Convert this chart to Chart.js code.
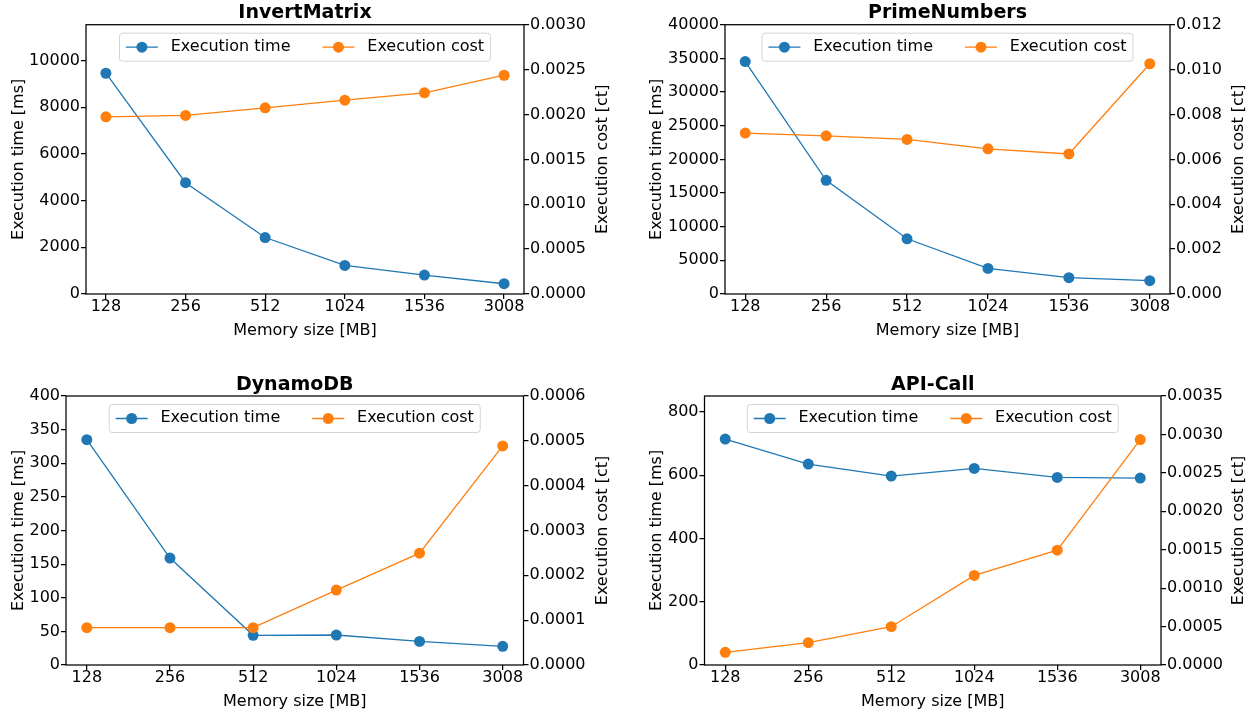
<!DOCTYPE html>
<html>
<head>
<meta charset="utf-8">
<title>Execution time and cost by memory size</title>
<script src="https://cdn.jsdelivr.net/npm/chart.js@4.4.1/dist/chart.umd.min.js"></script>
<style>
  html, body { margin: 0; padding: 0; background: #fff; }
  body { width: 1251px; height: 715px; position: relative; overflow: hidden; }
  .panel { position: absolute; }
</style>
</head>
<body>
<div class="panel" style="left:0px;top:0px;width:625px;height:357px"><canvas id="invertChart"></canvas></div>
<div class="panel" style="left:626px;top:0px;width:625px;height:357px"><canvas id="primeChart"></canvas></div>
<div class="panel" style="left:0px;top:357px;width:625px;height:358px"><canvas id="dynamoChart"></canvas></div>
<div class="panel" style="left:626px;top:357px;width:625px;height:358px"><canvas id="apiChart"></canvas></div>
<script>
// categories
const memorySizes = ["128", "256", "512", "1024", "1536", "3008"];

// values
const invertTime = [9460, 4770, 2420, 1225, 810, 440];
const invertCost = [0.001974, 0.001989, 0.002074, 0.002159, 0.002241, 0.002437];
const primeTime = [34520, 16890, 8200, 3800, 2420, 1975];
const primeCost = [0.00717, 0.00705, 0.00689, 0.00647, 0.00624, 0.01026];
const dynamoTime = [335, 159, 44.1, 44.6, 35.1, 27.7];
const dynamoCost = [0.0000832, 0.0000832, 0.0000832, 0.0001671, 0.0002495, 0.0004886];
const apiTime = [714.6, 635.6, 597.6, 621.9, 593.4, 591.3];
const apiCost = [0.000165, 0.00029, 0.000498, 0.001165, 0.001494, 0.002933];

// tick labels
const invertTimeTicks = [0, 2000, 4000, 6000, 8000, 10000];
const invertCostTicks = [0, 0.0005, 0.001, 0.0015, 0.002, 0.0025, 0.003];
const primeTimeTicks = [0, 5000, 10000, 15000, 20000, 25000, 30000, 35000, 40000];
const primeCostTicks = [0, 0.002, 0.004, 0.006, 0.008, 0.01, 0.012];
const dynamoTimeTicks = [0, 50, 100, 150, 200, 250, 300, 350, 400];
const dynamoCostTicks = [0, 0.0001, 0.0002, 0.0003, 0.0004, 0.0005, 0.0006];
const apiTimeTicks = [0, 200, 400, 600, 800];
const apiCostTicks = [0, 0.0005, 0.001, 0.0015, 0.002, 0.0025, 0.003, 0.0035];

const BLUE = "#1f77b4";
const ORANGE = "#ff7f0e";
const FONT = "'DejaVu Sans', sans-serif";

Chart.defaults.font.family = FONT;
Chart.defaults.color = "#000";

// frame, title, right axis title and the in-plot legend
const framePlugin = {
  id: "frame",
  afterDraw(chart, args, opts) {
    const ctx = chart.ctx;
    const a = chart.chartArea;
    const cx = (a.left + a.right) / 2;

    ctx.save();
    ctx.strokeStyle = "#000";
    ctx.lineWidth = 1.25;
    ctx.strokeRect(a.left, a.top, a.right - a.left, a.bottom - a.top);

    ctx.fillStyle = "#000";
    ctx.textAlign = "center";
    ctx.textBaseline = "middle";
    ctx.font = "bold 19px " + FONT;
    ctx.fillText(opts.title, cx, a.top - 11.4);

    ctx.font = "16px " + FONT;
    ctx.save();
    ctx.translate(a.right + opts.rightTitleOffset, (a.top + a.bottom) / 2);
    ctx.rotate(-Math.PI / 2);
    ctx.fillText("Execution cost [ct]", 0, 0);
    ctx.restore();

    // legend
    const items = [
      { text: "Execution time", color: BLUE },
      { text: "Execution cost", color: ORANGE },
    ];
    const pad = 6.4, handle = 32, textPad = 12.8, colSpace = 32;
    const widths = items.map((it) => ctx.measureText(it.text).width);
    const boxW = pad * 2 + items.length * (handle + textPad) + widths[0] + widths[1] + colSpace;
    const boxH = 28;
    const boxX = cx - boxW / 2;
    const boxY = a.top + 8.5;
    ctx.beginPath();
    ctx.roundRect(boxX, boxY, boxW, boxH, 3);
    ctx.fillStyle = "rgba(255,255,255,0.8)";
    ctx.fill();
    ctx.strokeStyle = "#d4d4d4";
    ctx.lineWidth = 1;
    ctx.stroke();

    let x = boxX + pad;
    const y = boxY + boxH / 2;
    ctx.textAlign = "left";
    items.forEach((it, i) => {
      ctx.strokeStyle = it.color;
      ctx.lineWidth = 1.3;
      ctx.beginPath();
      ctx.moveTo(x, y);
      ctx.lineTo(x + handle, y);
      ctx.stroke();
      ctx.fillStyle = it.color;
      ctx.beginPath();
      ctx.arc(x + handle / 2, y, 5.5, 0, Math.PI * 2);
      ctx.fill();
      x += handle + textPad;
      ctx.fillStyle = "#000";
      ctx.fillText(it.text, x, y - 0.5);
      x += widths[i] + colSpace;
    });
    ctx.restore();
  },
};

function tickGrid() {
  return {
    drawOnChartArea: false,
    drawTicks: true,
    tickLength: 5,
    color: "#000",
    lineWidth: 1.25,
  };
}

function makeChart(id, cfg) {
  const ctx = document.getElementById(id).getContext("2d");
  return new Chart(ctx, {
    type: "line",
    data: {
      datasets: [
        {
          label: "Execution time",
          data: cfg.time.map((v, i) => ({ x: i, y: v })),
          yAxisID: "y",
          borderColor: BLUE,
          backgroundColor: BLUE,
          pointBackgroundColor: BLUE,
          borderWidth: 1.3,
          pointRadius: 5.5,
          pointBorderWidth: 0,
          tension: 0,
          fill: false,
          order: 1,
        },
        {
          label: "Execution cost",
          data: cfg.cost.map((v, i) => ({ x: i, y: v })),
          yAxisID: "y2",
          borderColor: ORANGE,
          backgroundColor: ORANGE,
          pointBackgroundColor: ORANGE,
          borderWidth: 1.3,
          pointRadius: 5.5,
          pointBorderWidth: 0,
          tension: 0,
          fill: false,
          order: 0,
        },
      ],
    },
    options: {
      responsive: true,
      maintainAspectRatio: false,
      animation: false,
      events: [],
      layout: {
        autoPadding: false,
        padding: { top: cfg.padTop, left: 0, right: 0, bottom: 0 },
      },
      scales: {
        x: {
          type: "linear",
          min: -0.25,
          max: 5.25,
          afterBuildTicks: (axis) => {
            axis.ticks = memorySizes.map((_, i) => ({ value: i }));
          },
          afterFit: (axis) => {
            axis.height = cfg.xHeight;
          },
          ticks: {
            font: { size: 16, lineHeight: 1 },
            padding: 0,
            maxRotation: 0,
            autoSkip: false,
            callback: (value) => memorySizes[value],
          },
          grid: tickGrid(),
          border: { display: false },
          title: {
            display: true,
            text: "Memory size [MB]",
            font: { size: 16 },
            padding: { top: 0, bottom: cfg.xHeight - 9.6 - 36.5 },
          },
        },
        y: {
          type: "linear",
          position: "left",
          min: 0,
          max: cfg.timeMax,
          afterBuildTicks: (axis) => {
            axis.ticks = cfg.timeTicks.map((v) => ({ value: v }));
          },
          afterFit: (axis) => {
            axis.width = cfg.leftWidth;
          },
          ticks: {
            font: { size: 16, lineHeight: 1 },
            padding: 1,
            callback: (value) => String(value),
          },
          grid: tickGrid(),
          border: { display: false },
          title: {
            display: true,
            text: "Execution time [ms]",
            font: { size: 16 },
            padding: { top: cfg.leftTitlePad, bottom: 0 },
          },
        },
        y2: {
          type: "linear",
          position: "right",
          min: 0,
          max: cfg.costTicks[cfg.costTicks.length - 1],
          afterBuildTicks: (axis) => {
            axis.ticks = cfg.costTicks.map((v) => ({ value: v }));
          },
          afterFit: (axis) => {
            axis.width = cfg.rightWidth;
          },
          ticks: {
            font: { size: 16, lineHeight: 1 },
            padding: 1,
            callback: (value) => Number(value).toFixed(cfg.decimals),
          },
          grid: tickGrid(),
          border: { display: false },
        },
      },
      plugins: {
        legend: { display: false },
        tooltip: { enabled: false },
        frame: { title: cfg.title, rightTitleOffset: cfg.rightTitleOffset },
      },
    },
    plugins: [framePlugin],
  });
}

document.addEventListener("DOMContentLoaded", function () {
  makeChart("invertChart", {
    title: "InvertMatrix",
    time: invertTime, cost: invertCost,
    timeTicks: invertTimeTicks, costTicks: invertCostTicks,
    timeMax: 11540, decimals: 4,
    padTop: 24.7, xHeight: 63, leftWidth: 86, rightWidth: 101,
    leftTitlePad: 9.2, rightTitleOffset: 78.5,
  });
  makeChart("primeChart", {
    title: "PrimeNumbers",
    time: primeTime, cost: primeCost,
    timeTicks: primeTimeTicks, costTicks: primeCostTicks,
    timeMax: 40000, decimals: 3,
    padTop: 24.7, xHeight: 63, leftWidth: 99, rightWidth: 81,
    leftTitlePad: 21.1, rightTitleOffset: 69.2,
  });
  makeChart("dynamoChart", {
    title: "DynamoDB",
    time: dynamoTime, cost: dynamoCost,
    timeTicks: dynamoTimeTicks, costTicks: dynamoCostTicks,
    timeMax: 400, decimals: 4,
    padTop: 39, xHeight: 50, leftWidth: 66, rightWidth: 101.5,
    leftTitlePad: 9.2, rightTitleOffset: 79,
  });
  makeChart("apiChart", {
    title: "API-Call",
    time: apiTime, cost: apiCost,
    timeTicks: apiTimeTicks, costTicks: apiCostTicks,
    timeMax: 851, decimals: 4,
    padTop: 39, xHeight: 50, leftWidth: 78.5, rightWidth: 90,
    leftTitlePad: 21.7, rightTitleOffset: 78.2,
  });
});
</script>
</body>
</html>
